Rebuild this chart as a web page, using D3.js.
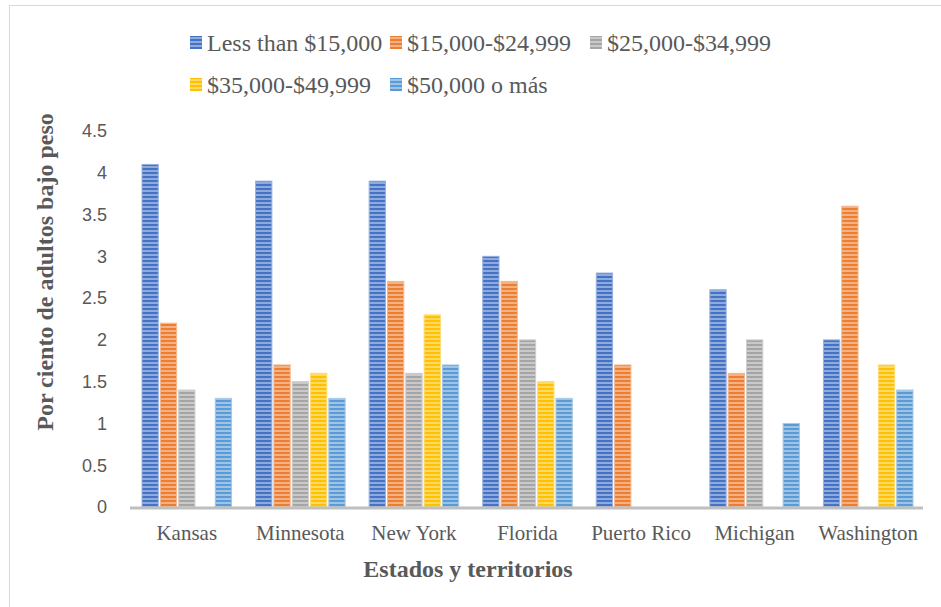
<!DOCTYPE html>
<html>
<head>
<meta charset="utf-8">
<title>Por ciento de adultos bajo peso</title>
<script src="https://d3js.org/d3.v7.min.js"></script>
<style>
  body { margin: 0; background: #fff; }
  .tick-y { font-family: "Liberation Sans", Arial, sans-serif; font-size: 18px; fill: #595959; }
  .tick-x { font-family: "Liberation Serif", "Times New Roman", serif; font-size: 21px; fill: #595959; }
  .legend { font-family: "Liberation Serif", "Times New Roman", serif; font-size: 24px; fill: #595959; }
  .title { font-family: "Liberation Serif", "Times New Roman", serif; font-size: 24px; font-weight: bold; fill: #595959; }
</style>
</head>
<body>
<script>

// data
var states = ["Kansas", "Minnesota", "New York", "Florida", "Puerto Rico", "Michigan", "Washington"];
var seriesNames = ["Less than $15,000", "$15,000-$24,999", "$25,000-$34,999", "$35,000-$49,999", "$50,000 o más"];
var lessThan15 = [4.1, 3.9, 3.9, 3.0, 2.8, 2.6, 2.0];
var from15to25 = [2.2, 1.7, 2.7, 2.7, 1.7, 1.6, 3.6];
var from25to35 = [1.4, 1.5, 1.6, 2.0, null, 2.0, null];
var from35to50 = [null, 1.6, 2.3, 1.5, null, null, 1.7];
var over50 = [1.3, 1.3, 1.7, 1.3, null, 1.0, 1.4];
var yTicks = [0, 0.5, 1, 1.5, 2, 2.5, 3, 3.5, 4, 4.5];

var series = [lessThan15, from15to25, from25to35, from35to50, over50];
var colors = ["#4472C4", "#ED7D31", "#A5A5A5", "#FFC000", "#5B9BD5"];

var w = 941, h = 607;
var plotLeft = 130, plotRight = 925, plotTop = 131, plotBottom = 507;

var svg = d3.select("body").append("svg")
    .attr("width", w)
    .attr("height", h);

// chart border
svg.append("rect")
    .attr("x", 9.5).attr("y", 5.5)
    .attr("width", w + 10).attr("height", h + 10)
    .attr("fill", "#fff")
    .attr("stroke", "#d9d9d9");

// striped patterns, one per series
var defs = svg.append("defs");
colors.forEach(function(c, i) {
  var light = d3.interpolateRgb(c, "#fff")(0.4);
  var p = defs.append("pattern")
      .attr("id", "stripe" + i)
      .attr("patternUnits", "userSpaceOnUse")
      .attr("width", 4).attr("height", 4);
  p.append("rect").attr("width", 4).attr("height", 4).attr("fill", light);
  p.append("rect").attr("width", 4).attr("height", 2).attr("fill", c);
});

var x0 = d3.scaleBand()
    .domain(states)
    .range([plotLeft, plotRight]);

var x1 = d3.scaleBand()
    .domain(d3.range(series.length))
    .range([12, x0.bandwidth() - 12])
    .paddingInner(0.11);

var y = d3.scaleLinear()
    .domain([0, 4.5])
    .range([plotBottom, plotTop]);

// bars
var rows = [];
states.forEach(function(s, i) {
  series.forEach(function(arr, k) {
    if (arr[i] != null) rows.push({state: s, k: k, v: arr[i]});
  });
});

svg.append("g").selectAll("rect")
    .data(rows)
  .enter().append("rect")
    .attr("x", function(d) { return x0(d.state) + x1(d.k); })
    .attr("y", function(d) { return y(d.v); })
    .attr("width", x1.bandwidth())
    .attr("height", function(d) { return y(0) - y(d.v); })
    .attr("fill", function(d) { return "url(#stripe" + d.k + ")"; })
    .attr("stroke", function(d) { return d3.interpolateRgb(colors[d.k], "#fff")(0.45); })
    .attr("stroke-width", 1);

// x axis line
svg.append("line")
    .attr("x1", plotLeft).attr("x2", plotRight - 2)
    .attr("y1", plotBottom + 1).attr("y2", plotBottom + 1)
    .attr("stroke", "#bfbfbf")
    .attr("stroke-width", 3);

// y tick labels
svg.append("g").selectAll("text")
    .data(yTicks)
  .enter().append("text")
    .attr("class", "tick-y")
    .attr("x", 107)
    .attr("y", function(d) { return y(d); })
    .attr("dy", "0.35em")
    .attr("text-anchor", "end")
    .text(function(d) { return d; });

// x tick labels
svg.append("g").selectAll("text")
    .data(states)
  .enter().append("text")
    .attr("class", "tick-x")
    .attr("x", function(d) { return x0(d) + x0.bandwidth() / 2; })
    .attr("y", 540)
    .attr("text-anchor", "middle")
    .text(function(d) { return d; });

// axis titles
svg.append("text")
    .attr("class", "title")
    .attr("x", 468).attr("y", 577)
    .attr("text-anchor", "middle")
    .text("Estados y territorios");

svg.append("text")
    .attr("class", "title")
    .attr("transform", "translate(53,272) rotate(-90)")
    .attr("text-anchor", "middle")
    .text("Por ciento de adultos bajo peso");

// legend
var legendPos = [[190, 43], [390, 43], [590, 43], [190, 85], [390, 85]];
var legend = svg.append("g").selectAll("g")
    .data(seriesNames)
  .enter().append("g")
    .attr("transform", function(d, i) { return "translate(" + legendPos[i][0] + "," + legendPos[i][1] + ")"; });

legend.append("rect")
    .attr("x", 0).attr("y", -7)
    .attr("width", 12).attr("height", 13)
    .attr("fill", function(d, i) { return "url(#stripe" + i + ")"; });

legend.append("text")
    .attr("class", "legend")
    .attr("x", 17).attr("y", 8)
    .text(function(d) { return d; });

</script>
</body>
</html>
